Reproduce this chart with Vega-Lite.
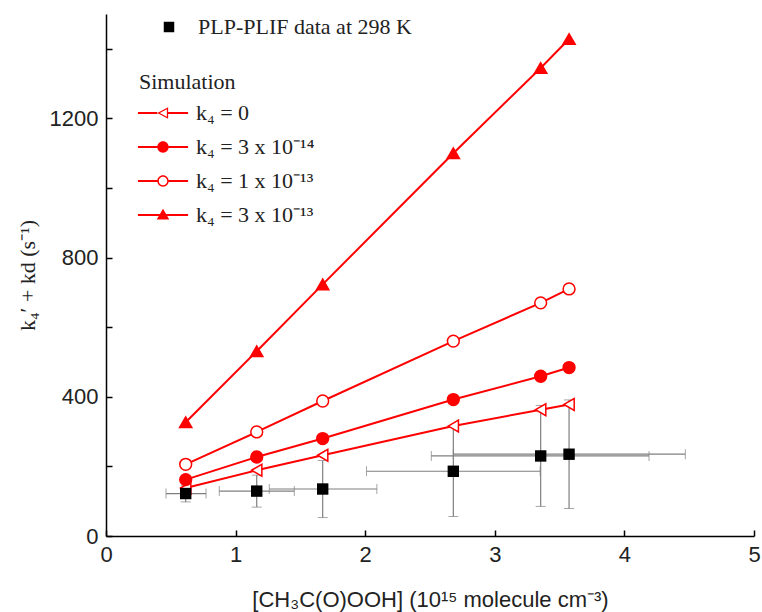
{
  "$schema": "https://vega.github.io/schema/vega-lite/v6.json",
  "width": 648,
  "height": 522,
  "autosize": "none",
  "padding": {"left": 106, "top": 14, "right": 8, "bottom": 76},
  "background": "white",
  "config": {
    "view": {"stroke": null},
    "axis": {"grid": false, "domainColor": "black", "domainWidth": 1.5, "tickColor": "black", "tickWidth": 1.5, "labelFont": "Liberation Sans", "labelFontSize": 22, "labelColor": "#222", "titleColor": "#222"}
  },
  "datasets": {
    "exp": [
      {"src": "PLP-PLIF data at 298 K", "x": 0.615, "y": 122, "xlo": 0.463, "xhi": 0.772, "ylo": 98, "yhi": 146},
      {"src": "PLP-PLIF data at 298 K", "x": 1.163, "y": 129, "xlo": 0.874, "xhi": 1.453, "ylo": 83, "yhi": 175},
      {"src": "PLP-PLIF data at 298 K", "x": 1.672, "y": 135, "xlo": 1.26, "xhi": 2.09, "ylo": 53, "yhi": 217},
      {"src": "PLP-PLIF data at 298 K", "x": 2.68, "y": 186, "xlo": 2.01, "xhi": 3.35, "ylo": 56, "yhi": 316},
      {"src": "PLP-PLIF data at 298 K", "x": 3.354, "y": 230, "xlo": 2.51, "xhi": 4.19, "ylo": 85, "yhi": 375},
      {"src": "PLP-PLIF data at 298 K", "x": 3.573, "y": 235, "xlo": 2.68, "xhi": 4.47, "ylo": 79, "yhi": 391}
    ],
    "sim": [
      {"sim": "k₄ = 0", "x": 0.615, "y": 138},
      {"sim": "k₄ = 0", "x": 1.163, "y": 189},
      {"sim": "k₄ = 0", "x": 1.672, "y": 232},
      {"sim": "k₄ = 0", "x": 2.68, "y": 316},
      {"sim": "k₄ = 0", "x": 3.354, "y": 363},
      {"sim": "k₄ = 0", "x": 3.573, "y": 378},
      {"sim": "k₄ = 3 x 10⁻¹⁴", "x": 0.615, "y": 162},
      {"sim": "k₄ = 3 x 10⁻¹⁴", "x": 1.163, "y": 227},
      {"sim": "k₄ = 3 x 10⁻¹⁴", "x": 1.672, "y": 280},
      {"sim": "k₄ = 3 x 10⁻¹⁴", "x": 2.68, "y": 392},
      {"sim": "k₄ = 3 x 10⁻¹⁴", "x": 3.354, "y": 459},
      {"sim": "k₄ = 3 x 10⁻¹⁴", "x": 3.573, "y": 484},
      {"sim": "k₄ = 1 x 10⁻¹³", "x": 0.615, "y": 206},
      {"sim": "k₄ = 1 x 10⁻¹³", "x": 1.163, "y": 299},
      {"sim": "k₄ = 1 x 10⁻¹³", "x": 1.672, "y": 388},
      {"sim": "k₄ = 1 x 10⁻¹³", "x": 2.68, "y": 560},
      {"sim": "k₄ = 1 x 10⁻¹³", "x": 3.354, "y": 670},
      {"sim": "k₄ = 1 x 10⁻¹³", "x": 3.573, "y": 710},
      {"sim": "k₄ = 3 x 10⁻¹³", "x": 0.615, "y": 327},
      {"sim": "k₄ = 3 x 10⁻¹³", "x": 1.163, "y": 531},
      {"sim": "k₄ = 3 x 10⁻¹³", "x": 1.672, "y": 723},
      {"sim": "k₄ = 3 x 10⁻¹³", "x": 2.68, "y": 1100},
      {"sim": "k₄ = 3 x 10⁻¹³", "x": 3.354, "y": 1345},
      {"sim": "k₄ = 3 x 10⁻¹³", "x": 3.573, "y": 1428}
    ]
  },
  "encoding": {
    "x": {"type": "quantitative", "scale": {"domain": [0, 5], "nice": false},
      "axis": {"title": "[CH₃C(O)OOH] (10¹⁵ molecule cm⁻³)", "titleFont": "Liberation Sans", "titleFontSize": 22, "titleFontWeight": "normal", "titlePadding": 24,
        "values": [0, 0.5, 1, 1.5, 2, 2.5, 3, 3.5, 4, 4.5, 5], "format": "d", "labelExpr": "datum.value % 1 === 0 ? datum.label : ''", "tickSize": -6, "labelPadding": 14, "labelFlush": false}},
    "y": {"type": "quantitative", "scale": {"domain": [0, 1500], "nice": false},
      "axis": {"title": "k₄′ + kd  (s⁻¹)", "titleFont": "Liberation Serif", "titleFontSize": 22, "titleFontWeight": "normal", "titlePadding": 10,
        "values": [0, 200, 400, 600, 800, 1000, 1200, 1400], "labelExpr": "datum.value % 400 === 0 ? datum.label : ''", "format": "d", "tickSize": -6, "labelPadding": 14}}
  },
  "layer": [
    {
      "data": {"name": "exp"},
      "mark": {"type": "errorbar", "ticks": {"size": 10}, "color": "#7f7f7f", "rule": {"strokeWidth": 1.2}},
      "encoding": {
        "x": {"field": "xlo", "type": "quantitative"},
        "x2": {"field": "xhi"},
        "y": {"field": "y", "type": "quantitative"}
      }
    },
    {
      "data": {"name": "exp"},
      "mark": {"type": "errorbar", "ticks": {"size": 10}, "color": "#7f7f7f", "rule": {"strokeWidth": 1.2}},
      "encoding": {
        "x": {"field": "x", "type": "quantitative"},
        "y": {"field": "ylo", "type": "quantitative"},
        "y2": {"field": "yhi"}
      }
    },
    {
      "data": {"name": "sim"},
      "mark": {"type": "line", "color": "red", "strokeWidth": 2},
      "encoding": {
        "x": {"field": "x", "type": "quantitative"},
        "y": {"field": "y", "type": "quantitative"},
        "detail": {"field": "sim"}
      }
    },
    {
      "data": {"name": "sim"},
      "transform": [{"filter": "datum.sim === 'k₄ = 0'"}],
      "mark": {"type": "point", "shape": "triangle-left", "filled": true, "fill": "white", "stroke": "red", "strokeWidth": 1.5, "opacity": 1, "size": 140},
      "encoding": {"x": {"field": "x", "type": "quantitative"}, "y": {"field": "y", "type": "quantitative"}}
    },
    {
      "data": {"name": "sim"},
      "transform": [{"filter": "datum.sim === 'k₄ = 3 x 10⁻¹⁴'"}],
      "mark": {"type": "point", "shape": "circle", "filled": true, "fill": "red", "stroke": "red", "strokeWidth": 1.5, "opacity": 1, "size": 140},
      "encoding": {"x": {"field": "x", "type": "quantitative"}, "y": {"field": "y", "type": "quantitative"}}
    },
    {
      "data": {"name": "sim"},
      "transform": [{"filter": "datum.sim === 'k₄ = 1 x 10⁻¹³'"}],
      "mark": {"type": "point", "shape": "circle", "filled": true, "fill": "white", "stroke": "red", "strokeWidth": 1.5, "opacity": 1, "size": 140},
      "encoding": {"x": {"field": "x", "type": "quantitative"}, "y": {"field": "y", "type": "quantitative"}}
    },
    {
      "data": {"name": "sim"},
      "transform": [{"filter": "datum.sim === 'k₄ = 3 x 10⁻¹³'"}],
      "mark": {"type": "point", "shape": "triangle-up", "filled": true, "fill": "red", "stroke": "red", "strokeWidth": 1.5, "opacity": 1, "size": 150},
      "encoding": {"x": {"field": "x", "type": "quantitative"}, "y": {"field": "y", "type": "quantitative"}}
    },
    {
      "data": {"name": "sim"},
      "transform": [{"filter": "datum.x < 0"}],
      "mark": {"type": "point", "filled": true, "color": "red", "opacity": 1},
      "encoding": {
        "x": {"field": "x", "type": "quantitative"},
        "y": {"field": "y", "type": "quantitative"},
        "shape": {"field": "sim", "type": "nominal",
          "scale": {"domain": ["k₄ = 0", "k₄ = 3 x 10⁻¹⁴", "k₄ = 1 x 10⁻¹³", "k₄ = 3 x 10⁻¹³"],
            "range": [
              "M-4.4,-0.17L-1,-0.17L-1,0.17L-4.4,0.17ZM0.9,-0.17L4.4,-0.17L4.4,0.17L0.9,0.17ZM-1,0L0.9,-1L0.9,1ZM-0.557,0L0.678,0.65L0.678,-0.65Z",
              "M-4.4,-0.17L-1,-0.17L-1,0.17L-4.4,0.17ZM1,-0.17L4.4,-0.17L4.4,0.17L1,0.17ZM-1,0A1,1,0,1,1,1,0A1,1,0,1,1,-1,0Z",
              "M-4.4,-0.17L-1,-0.17L-1,0.17L-4.4,0.17ZM1,-0.17L4.4,-0.17L4.4,0.17L1,0.17ZM-1,0A1,1,0,1,1,1,0A1,1,0,1,1,-1,0ZM-0.74,0A0.74,0.74,0,1,0,0.74,0A0.74,0.74,0,1,0,-0.74,0Z",
              "M-4.4,-0.17L-0.6,-0.17L-0.6,0.17L-4.4,0.17ZM0.6,-0.17L4.4,-0.17L4.4,0.17L0.6,0.17ZM0,-1.1L1.1,0.8L-1.1,0.8Z"
            ]},
          "legend": {"title": "Simulation", "orient": "none", "legendX": 33, "legendY": 58, "titleFont": "Liberation Serif", "titleFontSize": 22, "titleFontWeight": "normal", "titleColor": "#222", "titlePadding": 8,
            "labelFont": "Liberation Serif", "labelFontSize": 22, "labelColor": "#222", "labelLimit": 400, "symbolSize": 130, "symbolFillColor": "red", "symbolStrokeWidth": 0, "symbolOpacity": 1, "symbolOffset": 13, "labelOffset": 22, "rowPadding": 12,
            "encode": {"symbols": {"fill": {"value": "red"}, "fillOpacity": {"value": 1}}}}}
      }
    },
    {
      "data": {"name": "exp"},
      "mark": {"type": "point", "filled": true, "color": "black", "opacity": 1, "size": 130},
      "encoding": {
        "x": {"field": "x", "type": "quantitative"},
        "y": {"field": "y", "type": "quantitative"},
        "shape": {"field": "src", "type": "nominal", "scale": {"range": ["square"]},
          "legend": {"title": null, "orient": "none", "legendX": 52, "legendY": 2, "labelFont": "Liberation Serif", "labelFontSize": 22, "labelColor": "#222", "labelLimit": 400, "symbolSize": 110, "symbolFillColor": "black", "labelOffset": 18}}
      }
    }
  ],
  "resolve": {"scale": {"shape": "independent"}}
}
